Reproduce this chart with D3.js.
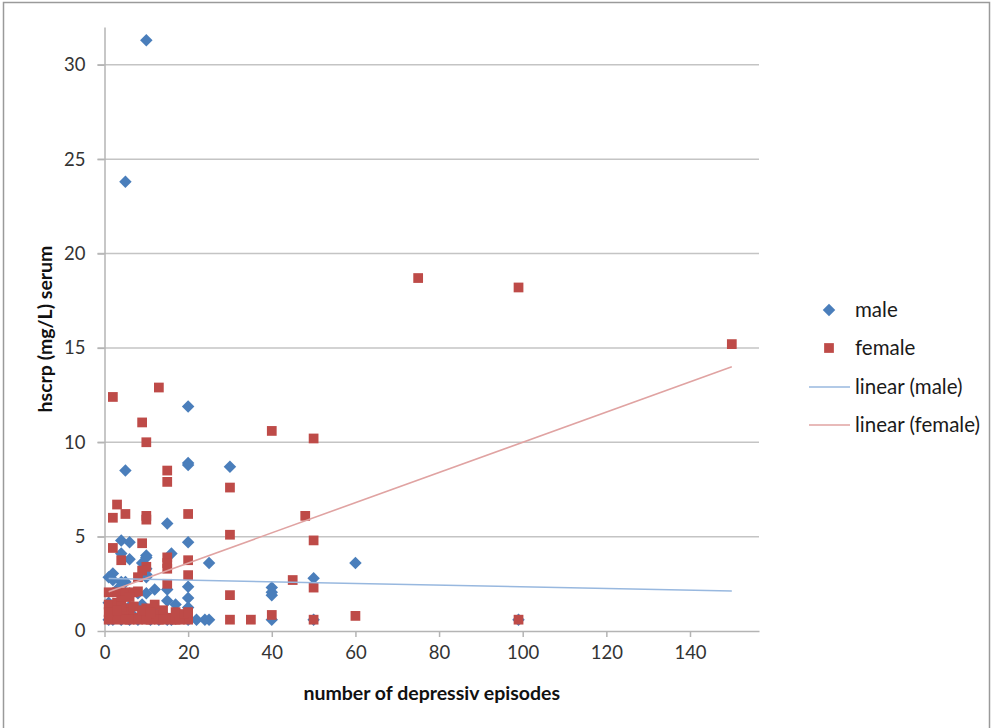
<!DOCTYPE html>
<html>
<head>
<meta charset="utf-8">
<script src="https://cdn.jsdelivr.net/npm/d3@7"></script>
<style>
  body { margin: 0; background: #fff; }
  svg { display: block; }
  text { font-family: Lato, "Open Sans", sans-serif; }
</style>
</head>
<body>
<div class="graphContainer"></div>
<script>
// size of the picture
const w = 1001;
const h = 728;

// plot area edges
const plotLeft = 104.5, plotRight = 759, plotTop = 27, plotBottom = 631;

// male points (episodes, hscrp)
const maleX = [10, 5, 20, 20, 20, 30, 5, 15, 60, 25, 20, 4, 6, 10, 16, 4, 6, 10, 2, 2,
               5, 10, 15, 20, 40, 40, 40, 50, 20, 20, 15, 17, 10, 8, 12, 3, 6, 9, 1, 14,
               7, 18, 25, 40, 50, 99, 20, 22, 1, 2, 3, 4, 5, 6, 8, 10, 11, 13, 15, 16,
               12, 3, 10, 10, 24, 1, 4, 9];
const maleY = [31.3, 23.8, 11.9, 8.9, 8.8, 8.7, 8.5, 5.7, 3.6, 3.6, 4.7, 4.8, 4.7, 4.0, 4.1, 4.1, 3.8, 3.3, 3.05, 2.7,
               2.6, 2.85, 2.2, 2.35, 2.3, 2.05, 1.9, 2.8, 1.75, 1.25, 1.6, 1.4, 2.0, 2.0, 1.0, 1.2, 1.3, 1.4, 1.5, 0.9,
               0.8, 0.7, 0.6, 0.6, 0.6, 0.6, 0.6, 0.6, 0.6, 0.6, 0.7, 0.6, 0.9, 0.6, 0.6, 0.7, 0.6, 0.6, 0.6, 0.6,
               2.2, 2.2, 3.0, 3.9, 0.6, 2.85, 2.6, 3.6];

// female points (episodes, hscrp)
const femaleX = [75, 99, 150, 13, 2, 9, 10, 40, 50, 15, 15, 30, 3, 5, 2, 10, 10, 20, 48, 30,
                 50, 2, 4, 9, 15, 15, 15, 20, 20, 15, 45, 50, 30, 40, 60, 35, 30, 50, 99, 20,
                 10, 9, 8, 1, 3, 5, 7, 8, 10, 5, 1, 2, 3, 4, 6, 7, 9, 11, 12, 14,
                 15, 16, 17, 1, 2, 3, 5, 6, 8, 10, 13, 4, 6, 18,
                 1, 4, 7, 9, 12, 17, 19, 14, 20, 3, 11];
const femaleY = [18.7, 18.2, 15.2, 12.9, 12.4, 11.05, 10.0, 10.6, 10.2, 8.5, 7.9, 7.6, 6.7, 6.2, 6.0, 6.1, 5.9, 6.2, 6.1, 5.1,
                 4.8, 4.4, 3.75, 4.65, 3.9, 3.6, 3.3, 3.75, 2.96, 2.5, 2.7, 2.3, 1.9, 0.85, 0.8, 0.6, 0.6, 0.6, 0.6, 0.6,
                 3.4, 3.2, 2.85, 2.05, 2.05, 2.05, 2.05, 2.1, 1.2, 1.2, 1.4, 1.0, 1.5, 0.8, 1.0, 0.7, 0.8, 0.6, 0.9, 1.1,
                 0.7, 0.6, 0.6, 0.6, 0.7, 0.6, 0.6, 0.6, 0.6, 0.6, 0.6, 1.6, 1.8, 0.6,
                 1.0, 1.3, 1.3, 1.1, 1.4, 1.0, 0.9, 0.6, 1.0, 1.1, 1.0];

// trend lines (start and end)
const maleTrendX = [1, 150];
const maleTrendY = [2.78, 2.12];
const femaleTrendX = [1, 150];
const femaleTrendY = [2.08, 14.0];

// ticks
const xTicks = [0, 20, 40, 60, 80, 100, 120, 140];
const yTicks = [0, 5, 10, 15, 20, 25, 30];
const gridTicks = [5, 10, 15, 20, 25, 30];

const legendNames = ["male", "female", "linear (male)", "linear (female)"];

const svg = d3.select(".graphContainer").append("svg")
  .attr("width", w)
  .attr("height", h);

// outer frame
svg.append("rect")
  .attr("x", 3.5).attr("y", 2.5)
  .attr("width", 986).attr("height", 740)
  .attr("fill", "#fff")
  .attr("stroke", "#9a9a9a")
  .attr("stroke-width", 1.5);

const xScale = d3.scaleLinear().domain([0, 156.5]).range([plotLeft, plotRight]);
const yScale = d3.scaleLinear().domain([0, 32]).range([plotBottom, plotTop]);

// gridlines
svg.append("g")
  .selectAll("line")
  .data(gridTicks)
  .enter()
  .append("line")
  .attr("x1", plotLeft - 7).attr("x2", plotRight)
  .attr("y1", d => yScale(d)).attr("y2", d => yScale(d))
  .attr("stroke", "#c4c4c4")
  .attr("stroke-width", 1.5);

// axes
const xAxis = d3.axisBottom(xScale).tickValues(xTicks).tickSize(6).tickPadding(9).tickSizeOuter(0);
const yAxis = d3.axisLeft(yScale).tickValues(yTicks).tickSize(7).tickPadding(12).tickSizeOuter(0);

const gx = svg.append("g")
  .attr("transform", "translate(0," + plotBottom + ")")
  .call(xAxis);
const gy = svg.append("g")
  .attr("transform", "translate(" + plotLeft + ",0)")
  .call(yAxis);

[gx, gy].forEach(g => {
  g.selectAll("path, line").attr("stroke", "#b4b4b4").attr("stroke-width", 1.5);
  g.selectAll("text")
    .style("font-size", "18.5px")
    .style("font-family", "Lato, sans-serif")
    .attr("fill", "#333");
});

// axis titles
svg.append("text")
  .attr("x", (plotLeft + plotRight) / 2)
  .attr("y", 700)
  .attr("text-anchor", "middle")
  .style("font-size", "19.5px")
  .style("font-weight", "bold")
  .attr("fill", "#111")
  .text("number of depressiv episodes");

svg.append("text")
  .attr("transform", "translate(52," + (plotTop + plotBottom) / 2 + ") rotate(-90)")
  .attr("text-anchor", "middle")
  .style("font-size", "19.5px")
  .style("font-weight", "bold")
  .attr("fill", "#111")
  .text("hscrp (mg/L) serum");

const blue = "#4a7ebb";
const red = "#be4b48";
const diamond = d3.symbol().type(d3.symbolSquare).size(78);
const square = d3.symbol().type(d3.symbolSquare).size(95);

// male diamonds
svg.append("g")
  .selectAll("path")
  .data(maleX)
  .enter()
  .append("path")
  .attr("d", diamond)
  .attr("transform", (d, i) => `translate(${xScale(d)},${yScale(maleY[i])}) rotate(45)`)
  .attr("fill", blue);

// female squares
svg.append("g")
  .selectAll("path")
  .data(femaleX)
  .enter()
  .append("path")
  .attr("d", square)
  .attr("transform", (d, i) => `translate(${xScale(d)},${yScale(femaleY[i])})`)
  .attr("fill", red);

// trend lines
const line = d3.line().x(d => xScale(d[0])).y(d => yScale(d[1]));
svg.append("path")
  .datum(maleTrendX.map((d, i) => [d, maleTrendY[i]]))
  .attr("d", line)
  .attr("fill", "none")
  .attr("stroke", "#98b8df")
  .attr("stroke-width", 1.6);
svg.append("path")
  .datum(femaleTrendX.map((d, i) => [d, femaleTrendY[i]]))
  .attr("d", line)
  .attr("fill", "none")
  .attr("stroke", "#e0a3a2")
  .attr("stroke-width", 1.6);

// legend
const legendY = [310, 348, 387, 425];
const lg = svg.append("g");
lg.append("path").attr("d", diamond)
  .attr("transform", `translate(829,${legendY[0]}) rotate(45)`).attr("fill", blue);
lg.append("path").attr("d", square)
  .attr("transform", `translate(829,${legendY[1]})`).attr("fill", red);
lg.append("line").attr("x1", 809).attr("x2", 850)
  .attr("y1", legendY[2]).attr("y2", legendY[2])
  .attr("stroke", "#98b8df").attr("stroke-width", 1.6);
lg.append("line").attr("x1", 809).attr("x2", 850)
  .attr("y1", legendY[3]).attr("y2", legendY[3])
  .attr("stroke", "#e0a3a2").attr("stroke-width", 1.6);
lg.selectAll("text")
  .data(legendNames)
  .enter()
  .append("text")
  .attr("x", 855)
  .attr("y", (d, i) => legendY[i])
  .attr("dy", "0.35em")
  .style("font-size", "20.5px")
  .attr("fill", "#1a1a1a")
  .text(d => d);
</script>
</body>
</html>
